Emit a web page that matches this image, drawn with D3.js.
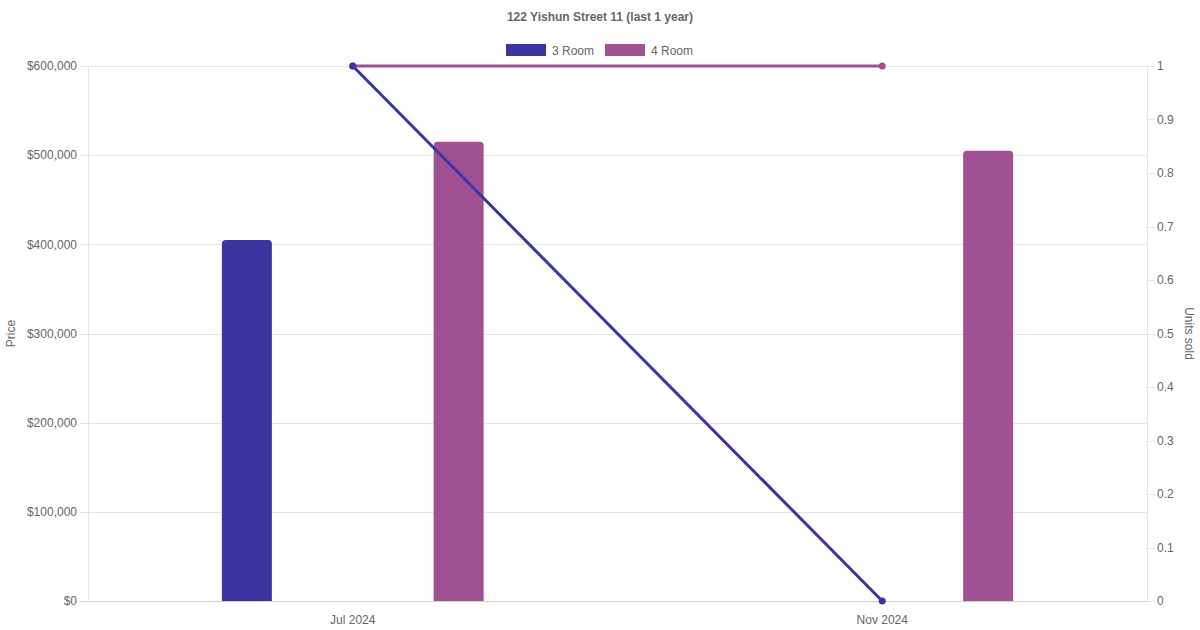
<!DOCTYPE html>
<html>
<head>
<meta charset="utf-8">
<script src="https://cdn.jsdelivr.net/npm/d3@7"></script>
<style>
  html, body { margin: 0; padding: 0; background: #fff; }
  svg text { font-family: "Liberation Sans", Arial, sans-serif; }
</style>
</head>
<body>
<div id="viz"></div>
<script>
const months = ["Jul 2024", "Nov 2024"];
const seriesNames = ["3 Room", "4 Room"];
const seriesColors = ["#3a35a0", "#a05193"];
// median price per flat type (null = no sale that month)
const price3Room = [405000, null];
const price4Room = [515000, 505000];
// units sold per flat type
const units3Room = [1, 0];
const units4Room = [1, 1];
const priceTicks = [0, 100000, 200000, 300000, 400000, 500000, 600000];
const unitTicks = [0, 0.1, 0.2, 0.3, 0.4, 0.5, 0.6, 0.7, 0.8, 0.9, 1];

const width = 1200;
const height = 630;
const margin = { top: 66, right: 53, bottom: 29, left: 88 };
const textColor = "#666";

const svg = d3.select("#viz")
  .append("svg")
  .attr("width", width)
  .attr("height", height)
  .attr("viewBox", [0, 0, width, height]);

const x = d3.scaleBand()
  .domain(months)
  .range([margin.left, width - margin.right]);

// each category split into two slots (80% of the band), bars max 50px
const xSlot = d3.scaleBand()
  .domain(seriesNames)
  .range([x.bandwidth() * 0.1, x.bandwidth() * 0.9]);

const yPrice = d3.scaleLinear()
  .domain([0, 600000])
  .range([height - margin.bottom, margin.top]);

const yUnits = d3.scaleLinear()
  .domain([0, 1])
  .range([height - margin.bottom, margin.top]);

// grid lines (left axis)
svg.append("g")
  .selectAll("line")
  .data(priceTicks)
  .join("line")
  .attr("x1", margin.left - 8)
  .attr("x2", width - margin.right)
  .attr("y1", d => Math.round(yPrice(d)) + 0.5)
  .attr("y2", d => Math.round(yPrice(d)) + 0.5)
  .attr("stroke", d => d === 0 ? "#d0d0d0" : "#e5e5e5");

// left axis line
svg.append("line")
  .attr("x1", margin.left + 0.5).attr("x2", margin.left + 0.5)
  .attr("y1", margin.top).attr("y2", height - margin.bottom)
  .attr("stroke", "#e5e5e5");

// right axis line + ticks
svg.append("line")
  .attr("x1", width - margin.right + 0.5).attr("x2", width - margin.right + 0.5)
  .attr("y1", margin.top).attr("y2", height - margin.bottom)
  .attr("stroke", "#e5e5e5");

svg.append("g")
  .selectAll("line")
  .data(unitTicks)
  .join("line")
  .attr("x1", width - margin.right)
  .attr("x2", width - margin.right + 8)
  .attr("y1", d => Math.round(yUnits(d)) + 0.5)
  .attr("y2", d => Math.round(yUnits(d)) + 0.5)
  .attr("stroke", "#e5e5e5");

// left tick labels
svg.append("g")
  .selectAll("text")
  .data(priceTicks)
  .join("text")
  .attr("x", margin.left - 11)
  .attr("y", d => yPrice(d))
  .attr("dy", "0.35em")
  .attr("text-anchor", "end")
  .attr("font-size", 12)
  .attr("fill", textColor)
  .text(d => "$" + d3.format(",")(d));

// right tick labels
svg.append("g")
  .selectAll("text")
  .data(unitTicks)
  .join("text")
  .attr("x", width - margin.right + 10)
  .attr("y", d => yUnits(d))
  .attr("dy", "0.35em")
  .attr("font-size", 12)
  .attr("fill", textColor)
  .text(d => d);

// x labels
svg.append("g")
  .selectAll("text")
  .data(months)
  .join("text")
  .attr("x", d => x(d) + x.bandwidth() / 2)
  .attr("y", height - margin.bottom + 23)
  .attr("text-anchor", "middle")
  .attr("font-size", 12)
  .attr("fill", textColor)
  .text(d => d);

// axis titles
svg.append("text")
  .attr("transform", `translate(15,${(margin.top + height - margin.bottom) / 2}) rotate(-90)`)
  .attr("text-anchor", "middle")
  .attr("font-size", 12)
  .attr("fill", textColor)
  .text("Price");

svg.append("text")
  .attr("transform", `translate(1185,${(margin.top + height - margin.bottom) / 2}) rotate(90)`)
  .attr("text-anchor", "middle")
  .attr("font-size", 12)
  .attr("fill", textColor)
  .text("Units sold");

// title
svg.append("text")
  .attr("x", width / 2)
  .attr("y", 21)
  .attr("text-anchor", "middle")
  .attr("font-size", 12)
  .attr("font-weight", "bold")
  .attr("fill", textColor)
  .text("122 Yishun Street 11 (last 1 year)");

// legend
const legendX = [506, 605];
const legend = svg.append("g")
  .selectAll("g")
  .data(seriesNames)
  .join("g")
  .attr("transform", (d, i) => `translate(${legendX[i]},44)`);

legend.append("rect")
  .attr("width", 40)
  .attr("height", 12)
  .attr("fill", (d, i) => seriesColors[i]);

legend.append("text")
  .attr("x", 46)
  .attr("y", 7)
  .attr("dy", "0.35em")
  .attr("font-size", 12)
  .attr("fill", textColor)
  .text(d => d);

// bars
const barData = [];
[price3Room, price4Room].forEach((series, si) => {
  series.forEach((v, mi) => {
    if (v != null) barData.push({ month: months[mi], series: seriesNames[si], color: seriesColors[si], value: v });
  });
});

const barW = Math.min(50, xSlot.bandwidth() * 0.9);
const r = 4;
const barPath = d => {
  const cx = x(d.month) + xSlot(d.series) + xSlot.bandwidth() / 2;
  const x0 = cx - barW / 2, x1 = cx + barW / 2;
  const y0 = yPrice(d.value), yb = yPrice(0);
  return `M${x0},${yb}V${y0 + r}Q${x0},${y0} ${x0 + r},${y0}H${x1 - r}Q${x1},${y0} ${x1},${y0 + r}V${yb}Z`;
};

svg.append("g")
  .selectAll("path")
  .data(barData)
  .join("path")
  .attr("d", barPath)
  .attr("fill", d => d.color);

// lines (4 Room first so 3 Room sits on top)
const lineSeries = [
  { values: units4Room, color: seriesColors[1] },
  { values: units3Room, color: seriesColors[0] }
];

const line = d3.line()
  .x((d, i) => x(months[i]) + x.bandwidth() / 2)
  .y(d => yUnits(d));

lineSeries.forEach(s => {
  const g = svg.append("g");
  g.append("path")
    .attr("d", line(s.values))
    .attr("fill", "none")
    .attr("stroke", s.color)
    .attr("stroke-width", 3);
  g.selectAll("circle")
    .data(s.values)
    .join("circle")
    .attr("cx", (d, i) => x(months[i]) + x.bandwidth() / 2)
    .attr("cy", d => yUnits(d))
    .attr("r", 3.5)
    .attr("fill", s.color);
});
</script>
</body>
</html>
